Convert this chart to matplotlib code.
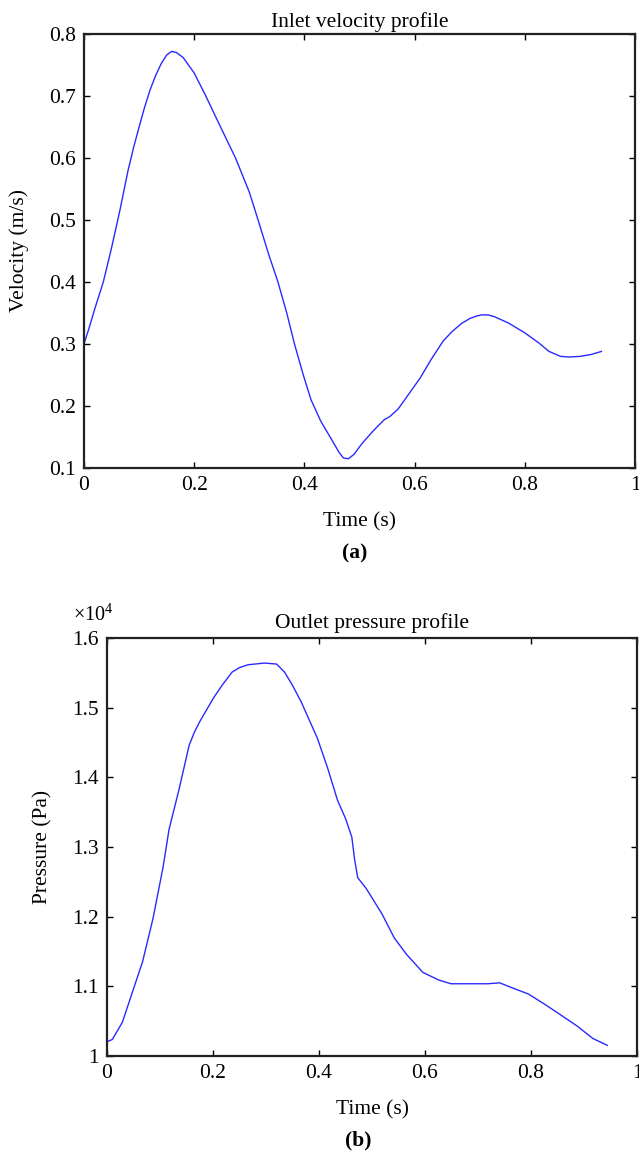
import matplotlib
matplotlib.use("Agg")
import matplotlib.pyplot as plt

plt.rcParams['font.family'] = ['Liberation Serif', 'DejaVu Serif']
plt.rcParams['mathtext.fontset'] = 'custom'
plt.rcParams['mathtext.rm'] = 'Liberation Serif'

# Inlet velocity profile (m/s)
vel_time = [0.000, 0.010, 0.020, 0.035, 0.050, 0.065, 0.080, 0.090, 0.100, 0.110,
            0.120, 0.130, 0.140, 0.150, 0.159, 0.168, 0.180, 0.200, 0.220, 0.250,
            0.275, 0.300, 0.316, 0.335, 0.352, 0.368, 0.382, 0.398, 0.412, 0.430,
            0.450, 0.463, 0.471, 0.480, 0.490, 0.505, 0.525, 0.545, 0.555, 0.570,
            0.586, 0.610, 0.630, 0.652, 0.668, 0.685, 0.700, 0.712, 0.722, 0.733,
            0.745, 0.770, 0.800, 0.825, 0.844, 0.865, 0.881, 0.900, 0.920, 0.939]
vel_value = [0.300, 0.328, 0.358, 0.400, 0.455, 0.515, 0.580, 0.617, 0.650, 0.682,
             0.710, 0.733, 0.752, 0.766, 0.772, 0.770, 0.762, 0.737, 0.702, 0.646,
             0.600, 0.545, 0.500, 0.445, 0.400, 0.350, 0.300, 0.250, 0.210, 0.175,
             0.145, 0.125, 0.116, 0.115, 0.122, 0.140, 0.160, 0.178, 0.183, 0.195,
             0.215, 0.245, 0.275, 0.305, 0.320, 0.333, 0.341, 0.345, 0.347, 0.347,
             0.344, 0.334, 0.318, 0.302, 0.288, 0.280, 0.279, 0.280, 0.283, 0.288]

# Outlet pressure profile (Pa)
pres_time = [0.000, 0.010, 0.029, 0.052, 0.067, 0.087, 0.106, 0.117, 0.136, 0.155,
             0.165, 0.175, 0.188, 0.201, 0.218, 0.236, 0.250, 0.266, 0.297, 0.320,
             0.335, 0.350, 0.366, 0.397, 0.416, 0.435, 0.450, 0.462, 0.467, 0.473,
             0.489, 0.519, 0.542, 0.565, 0.596, 0.626, 0.649, 0.688, 0.718, 0.741,
             0.764, 0.795, 0.825, 0.856, 0.887, 0.917, 0.944]
pres_value = [10205, 10237, 10484, 11010, 11350, 11980, 12720, 13250, 13830, 14460,
              14650, 14800, 14970, 15140, 15330, 15510, 15575, 15616, 15640, 15626,
              15510, 15320, 15090, 14560, 14140, 13670, 13410, 13140, 12830, 12560,
              12405, 12037, 11695, 11460, 11200, 11090, 11037, 11037, 11037, 11050,
              10980, 10890, 10747, 10590, 10430, 10250, 10153]

x_ticks = [0, 0.2, 0.4, 0.6, 0.8, 1.0]
x_ticklabels = ["0", "0.2", "0.4", "0.6", "0.8", "1"]
vel_ticks = [0.1, 0.2, 0.3, 0.4, 0.5, 0.6, 0.7, 0.8]
vel_ticklabels = ["0.1", "0.2", "0.3", "0.4", "0.5", "0.6", "0.7", "0.8"]
pres_ticks = [10000, 11000, 12000, 13000, 14000, 15000, 16000]
pres_ticklabels = ["1", "1.1", "1.2", "1.3", "1.4", "1.5", "1.6"]

W, H = 639, 1155
fig = plt.figure(figsize=(W / 100, H / 100), dpi=100)

def axrect(l, t, r, b):
    return [l / W, 1 - b / H, (r - l) / W, (b - t) / H]

ax1 = fig.add_axes(axrect(84, 34, 635, 468))
ax2 = fig.add_axes(axrect(107, 638, 637, 1056))

FS = 15.5
for ax in (ax1, ax2):
    ax.tick_params(direction='in', top=True, right=True, length=4, width=1,
                   labelsize=FS, pad=6)
    for s in ax.spines.values():
        s.set_linewidth(1.6)
        s.set_color('#222222')
    ax.set_xlim(0, 1)
    ax.set_xticks(x_ticks)
    ax.set_xticklabels(x_ticklabels)
    ax.set_xlabel("Time (s)", fontsize=FS, labelpad=12)

ax1.plot(vel_time, vel_value, color='#2a2aff', lw=1.0)
ax1.set_ylim(0.1, 0.8)
ax1.set_yticks(vel_ticks)
ax1.set_yticklabels(vel_ticklabels)
ax1.set_ylabel("Velocity (m/s)", fontsize=FS)
ax1.yaxis.set_label_coords((29 - 84) / 551, 0.5)
ax1.set_title("Inlet velocity profile", fontsize=FS, pad=5)

ax2.plot(pres_time, pres_value, color='#2a2aff', lw=1.0)
ax2.set_ylim(10000, 16000)
ax2.set_yticks(pres_ticks)
ax2.set_yticklabels(pres_ticklabels)
ax2.set_ylabel("Pressure (Pa)", fontsize=FS)
ax2.yaxis.set_label_coords((52 - 107) / 530, 0.5)
ax2.set_title("Outlet pressure profile", fontsize=FS, pad=7)

fig.text(73 / W, 1 - 615 / H, r"$\times$10$^4$", fontsize=14.5, ha='left', va='center')
fig.text(355 / W, 1 - 553 / H, "(a)", fontsize=FS, fontweight='bold', ha='center', va='center')
fig.text(358 / W, 1 - 1140 / H, "(b)", fontsize=FS, fontweight='bold', ha='center', va='center')

fig.savefig("out.png", dpi=100)
